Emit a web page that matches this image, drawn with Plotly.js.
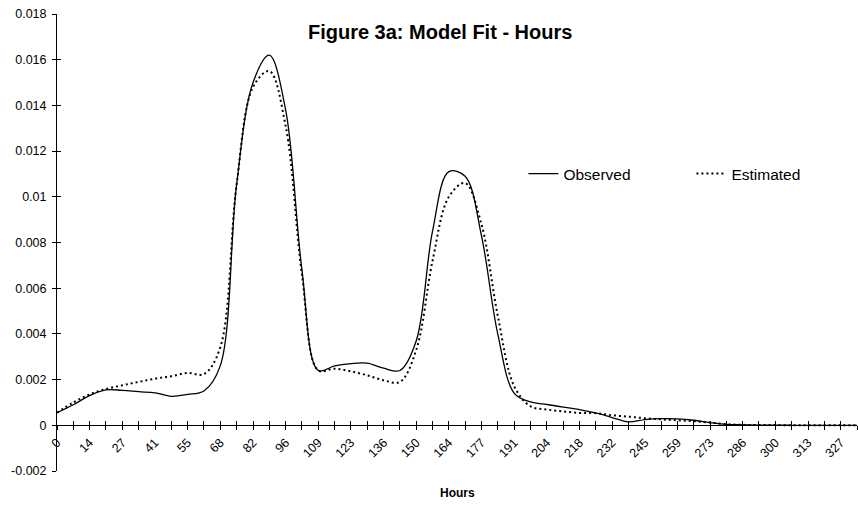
<!DOCTYPE html>
<html><head><meta charset="utf-8">
<script src="https://cdn.plot.ly/plotly-3.0.1.min.js"></script>
<style>html,body{margin:0;padding:0;background:#fff}#chart{width:858px;height:506px}</style>
</head><body><div id="chart"></div>
<script>
const hours = [0, 6.8, 13.6, 20.4, 27.3, 34.1, 40.9, 47.7, 54.5, 61.3, 68.1, 74.9, 81.8, 88.6, 95.4, 102.2, 109, 115.8, 122.6, 129.4, 136.3, 143.1, 149.9, 156.7, 163.5, 170.3, 177.1, 183.9, 190.8, 197.6, 204.4, 211.2, 218, 224.8, 231.6, 238.4, 245.3, 252.1, 258.9, 265.7, 272.5, 279.3, 286.1, 292.9, 299.8, 306.6, 313.4, 320.2, 327, 333.8];
const observed = [0.00055, 0.0009, 0.0013, 0.00155, 0.00153, 0.00147, 0.00142, 0.00127, 0.00135, 0.0015,
  0.0026, 0.0105, 0.0150, 0.0162, 0.0138, 0.0068, 0.0024, 0.0026, 0.0027, 0.00272,
  0.0025, 0.0024, 0.0037, 0.0085, 0.0111, 0.0109, 0.0083, 0.0040, 0.0014, 0.00102,
  0.00091, 0.0008, 0.00069, 0.00054, 0.00034, 0.00015, 0.00025, 0.00029, 0.00028, 0.00022,
  0.00012, 0.00004, 0.00002, 0.00001, 0.00001, 0, 0, 0, 0, 0];
const estimated = [0.00055, 0.001, 0.00135, 0.00159, 0.00175, 0.0019, 0.00204, 0.00215, 0.00229, 0.00224,
  0.0034, 0.0105, 0.0148, 0.0155, 0.0131, 0.0066, 0.0024, 0.00248, 0.00236, 0.00219,
  0.00197, 0.0019, 0.0033, 0.0072, 0.0100, 0.0106, 0.0088, 0.0048, 0.0017, 0.00083,
  0.00069, 0.00061, 0.00054, 0.00053, 0.00044, 0.00038, 0.00031, 0.00026, 0.00022, 0.00018,
  0.00012, 0.00005, 0.00002, 0.00001, 0.00001, 0, 0, 0, 0, 0];
const xTickLabels = ['0','14','27','41','55','68','82','96','109','123','136','150','164','177','191','204','218','232','245','259','273','286','300','313','327'];
const yTickVals = [-0.002, 0, 0.002, 0.004, 0.006, 0.008, 0.01, 0.012, 0.014, 0.016, 0.018];
const yTickText = ['-0.002','0','0.002','0.004','0.006','0.008','0.01','0.012','0.014','0.016','0.018'];

const xTickText = hours.map((h, i) => (i % 2 === 0 ? (xTickLabels[i / 2] || '') : ''));
const fam = 'Liberation Sans, Arial, Helvetica, sans-serif';
const xr = [0, hours[hours.length - 1]];
const yr = [yTickVals[0], yTickVals[yTickVals.length - 1]];

const traces = [
  {x: hours, y: observed, name: 'Observed', type: 'scatter', mode: 'lines',
   line: {color: '#000', width: 1.3, shape: 'spline', smoothing: 1}, hoverinfo: 'skip'},
  {x: hours, y: estimated, name: 'Estimated', type: 'scatter', mode: 'lines',
   line: {color: '#000', width: 2, dash: '2px,3px', shape: 'spline', smoothing: 1}, hoverinfo: 'skip'},
  {x: [hours[0]], y: [observed[0]], xaxis: 'x2', yaxis: 'y2', type: 'scatter', mode: 'none',
   showlegend: false, hoverinfo: 'skip'}
];

const layout = {
  width: 858, height: 506,
  margin: {l: 57, r: 1, t: 14, b: 35, autoexpand: false},
  paper_bgcolor: '#fff', plot_bgcolor: '#fff',
  font: {family: fam, color: '#000', size: 12},
  showlegend: true,
  legend: {orientation: 'h', x: 0.583, y: 0.65, xanchor: 'left', yanchor: 'middle',
    font: {size: 15.5, family: fam}, bgcolor: 'rgba(0,0,0,0)', entrywidth: 123, entrywidthmode: 'pixels'},
  title: {text: '<b>Figure 3a: Model Fit - Hours</b>', font: {size: 20, family: fam},
    xref: 'container', x: 0.513, xanchor: 'center', yref: 'container', y: 0.937, yanchor: 'middle'},
  xaxis: {range: xr, tickmode: 'array', tickvals: hours, ticktext: xTickText, tickangle: -45,
    ticks: 'outside', ticklen: 4, tickcolor: '#000', tickwidth: 1, showline: true, linecolor: '#000', linewidth: 1,
    showgrid: false, zeroline: false, anchor: 'free', position: 0.1, tickfont: {size: 12.5},
    automargin: false, fixedrange: true},
  xaxis2: {range: xr, overlaying: 'x', anchor: 'free', position: 0.1, tickmode: 'array', tickvals: hours,
    ticks: 'inside', ticklen: 4, tickcolor: '#000', showticklabels: false, showline: false, showgrid: false,
    zeroline: false, automargin: false},
  yaxis: {range: yr, tickmode: 'array', tickvals: yTickVals, ticktext: yTickText,
    ticks: 'outside', ticklen: 4, tickcolor: '#000', showline: true, linecolor: '#000', linewidth: 1,
    showgrid: false, zeroline: false, tickfont: {size: 12.5}, ticklabelstandoff: 3,
    automargin: false, fixedrange: true},
  yaxis2: {range: yr, overlaying: 'y', side: 'left', anchor: 'x', tickmode: 'array', tickvals: yTickVals,
    ticks: 'inside', ticklen: 4, tickcolor: '#000', showticklabels: false, showline: false, showgrid: false,
    zeroline: false, automargin: false},
  annotations: [
    {text: '<b>Hours</b>', xref: 'paper', yref: 'paper', x: 0.5, y: -0.048, xanchor: 'center', yanchor: 'middle',
     showarrow: false, font: {size: 12, family: fam}}
  ]
};

Plotly.newPlot('chart', traces, layout, {displayModeBar: false, staticPlot: true});
</script>
</body></html>
